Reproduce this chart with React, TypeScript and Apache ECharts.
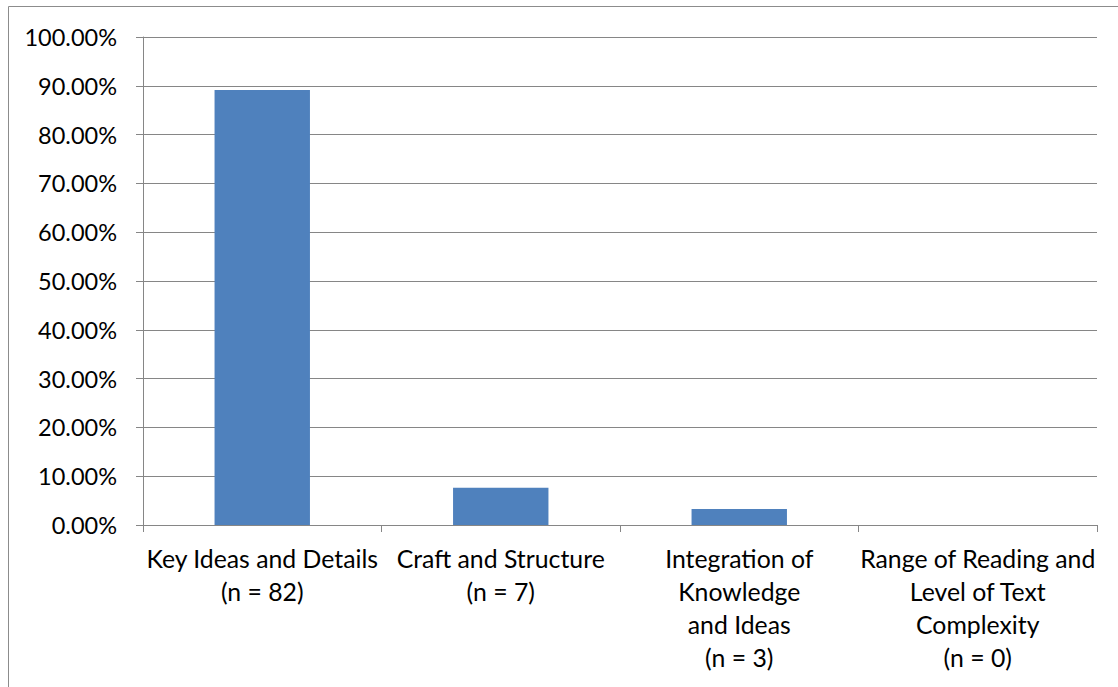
import React, { useEffect, useRef } from "react";
import * as echarts from "echarts";

const categories = [
  "Key Ideas and Details\n(n = 82)",
  "Craft and Structure\n(n = 7)",
  "Integration of\nKnowledge\nand Ideas\n(n = 3)",
  "Range of Reading and\nLevel of Text\nComplexity\n(n = 0)",
];
const values = [89.13, 7.61, 3.26, 0];
const yMin = 0;
const yMax = 100;
const yInterval = 10;

export default function App() {
  const ref = useRef<HTMLDivElement>(null);
  useEffect(() => {
    if (!ref.current) return;
    const chart = echarts.init(ref.current, null, { renderer: "svg" });
    const font = "Lato, 'Open Sans', sans-serif";
    chart.setOption({
      animation: false,
      backgroundColor: "#ffffff",
      graphic: [
        {
          type: "rect",
          shape: { x: 8.5, y: 6.5, width: 1200, height: 800 },
          style: { fill: "none", stroke: "#8c8c8c", lineWidth: 1 },
          silent: true,
        },
      ],
      grid: { left: 143, right: 21, top: 37, bottom: 162 },
      xAxis: {
        type: "category",
        data: categories,
        axisLine: { show: true, lineStyle: { color: "#868686", width: 1 } },
        axisTick: { show: true, length: 7, lineStyle: { color: "#868686" } },
        axisLabel: {
          interval: 0,
          color: "#000",
          fontFamily: font,
          fontSize: 24.8,
          lineHeight: 33,
          margin: 17,
          align: "center",
        },
      },
      yAxis: {
        type: "value",
        min: yMin,
        max: yMax,
        interval: yInterval,
        axisLine: { show: true, lineStyle: { color: "#868686", width: 1 } },
        axisTick: { show: true, length: 7, lineStyle: { color: "#868686" } },
        splitLine: { show: true, lineStyle: { color: "#868686", width: 1 } },
        axisLabel: {
          color: "#000",
          fontFamily: font,
          fontSize: 23.5,
          margin: 26,
          formatter: (v: number) => v.toFixed(2) + "%",
        },
      },
      series: [
        {
          type: "bar",
          data: values,
          barWidth: "40%",
          itemStyle: { color: "#4F81BD" },
        },
      ],
    });
    return () => chart.dispose();
  }, []);
  return <div ref={ref} style={{ width: 1118, height: 687, position: "absolute", left: 0, top: 0 }} />;
}
